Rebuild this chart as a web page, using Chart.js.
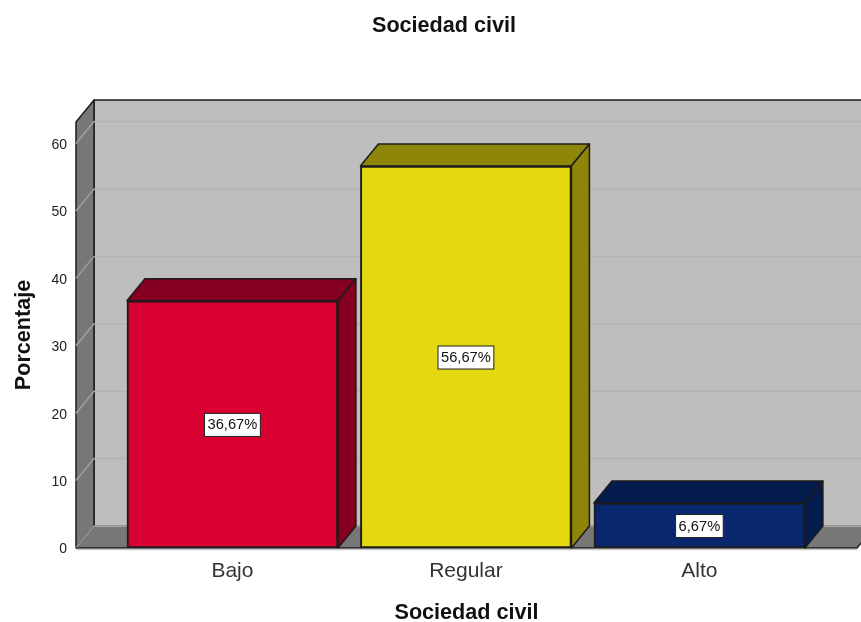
<!DOCTYPE html>
<html>
<head>
<meta charset="utf-8">
<script src="https://cdn.jsdelivr.net/npm/chart.js@4"></script>
<style>
  html, body { margin: 0; padding: 0; background: #fff; }
  canvas { display: block; }
</style>
</head>
<body>
<canvas id="chart" width="861" height="622"></canvas>
<script>
// Values
const categories = ['Bajo', 'Regular', 'Alto'];
const percentages = [36.67, 56.67, 6.67];
const valueLabels = ['36,67%', '56,67%', '6,67%'];
const yTicks = [0, 10, 20, 30, 40, 50, 60];

const frontColors = ['#d80030', '#e4d90e', '#08276f'];
const depthColors = ['#850020', '#8e8608', '#041b4e'];

// offset of the back plane from the front plane, in pixels
const DEPTH_X = 18;
const DEPTH_Y = -22;
const INK = '#1c1c1c';

function polygon(ctx, pts, fill, stroke) {
  ctx.beginPath();
  pts.forEach((p, i) => i ? ctx.lineTo(p[0], p[1]) : ctx.moveTo(p[0], p[1]));
  ctx.closePath();
  if (fill) { ctx.fillStyle = fill; ctx.fill(); }
  if (stroke) { ctx.strokeStyle = stroke; ctx.lineWidth = 1.5; ctx.stroke(); }
}

// Walls, floor and the depth faces of the bars, all behind the front faces
const box3d = {
  id: 'box3d',
  afterLayout(chart) {
    // the title sits a little right of the page centre
    chart.titleBlock.left += 20;
  },
  beforeDatasetsDraw(chart) {
    const ctx = chart.ctx;
    const { left, right, top, bottom } = chart.chartArea;
    const y = chart.scales.y;
    ctx.save();
    ctx.lineJoin = 'round';

    polygon(ctx, [[left + DEPTH_X, top + DEPTH_Y], [right + DEPTH_X, top + DEPTH_Y], [right + DEPTH_X, bottom + DEPTH_Y], [left + DEPTH_X, bottom + DEPTH_Y]], '#bebebe', INK);
    polygon(ctx, [[left, bottom], [left + DEPTH_X, bottom + DEPTH_Y], [right + DEPTH_X, bottom + DEPTH_Y], [right, bottom]], '#777777');
    polygon(ctx, [[left, top], [left + DEPTH_X, top + DEPTH_Y], [left + DEPTH_X, bottom + DEPTH_Y], [left, bottom]], '#777777', INK);

    yTicks.forEach(t => {
      const py = y.getPixelForValue(t);
      ctx.lineWidth = 1.5;
      ctx.strokeStyle = '#b3b3b3';
      ctx.beginPath();
      ctx.moveTo(left + DEPTH_X, py + DEPTH_Y);
      ctx.lineTo(right + DEPTH_X, py + DEPTH_Y);
      ctx.stroke();
      ctx.strokeStyle = '#a0a0a0';
      ctx.beginPath();
      ctx.moveTo(left, py);
      ctx.lineTo(left + DEPTH_X, py + DEPTH_Y);
      ctx.stroke();
    });

    // front edges of the floor
    ctx.strokeStyle = INK;
    ctx.lineWidth = 1.5;
    ctx.beginPath();
    ctx.moveTo(left, bottom);
    ctx.lineTo(right, bottom);
    ctx.lineTo(right + DEPTH_X, bottom + DEPTH_Y);
    ctx.stroke();
    ctx.strokeStyle = '#c8c8c8';
    ctx.beginPath();
    ctx.moveTo(left, bottom + 1.5);
    ctx.lineTo(right, bottom + 1.5);
    ctx.stroke();

    chart.getDatasetMeta(0).data.forEach((bar, i) => {
      const half = bar.width / 2;
      const l = bar.x - half, r = bar.x + half;
      polygon(ctx, [[l, bar.y], [l + DEPTH_X, bar.y + DEPTH_Y], [r + DEPTH_X, bar.y + DEPTH_Y], [r, bar.y]], depthColors[i], INK);
      polygon(ctx, [[r, bar.y], [r + DEPTH_X, bar.y + DEPTH_Y], [r + DEPTH_X, bar.base + DEPTH_Y], [r, bar.base]], depthColors[i], INK);
    });
    ctx.restore();
  },
  afterDatasetsDraw(chart) {
    const ctx = chart.ctx;
    ctx.save();
    ctx.font = '14.7px "Liberation Sans"';
    ctx.textAlign = 'center';
    ctx.textBaseline = 'middle';
    chart.getDatasetMeta(0).data.forEach((bar, i) => {
      const cy = (bar.y + bar.base) / 2;
      const w = ctx.measureText(valueLabels[i]).width + 6;
      ctx.fillStyle = '#ffffff';
      ctx.strokeStyle = '#222222';
      ctx.lineWidth = 1;
      ctx.fillRect(bar.x - w / 2, cy - 11, w, 23);
      ctx.strokeRect(bar.x - w / 2, cy - 11, w, 23);
      ctx.fillStyle = '#111111';
      ctx.fillText(valueLabels[i], bar.x, cy + 1);
    });
    ctx.restore();
  }
};

new Chart(document.getElementById('chart'), {
  type: 'bar',
  plugins: [box3d],
  data: {
    datasets: [{
      data: percentages.map((v, i) => ({ x: i, y: v })),
      backgroundColor: frontColors,
      borderColor: INK,
      borderWidth: 2,
      borderSkipped: false,
      barThickness: 211
    }]
  },
  options: {
    responsive: false,
    animation: false,
    layout: { padding: { left: 11, right: 4, top: 0, bottom: 0 } },
    plugins: {
      legend: { display: false },
      tooltip: { enabled: false },
      title: {
        display: true,
        text: 'Sociedad civil',
        color: '#111111',
        font: { family: '"Liberation Sans"', size: 21.6, weight: 'bold' },
        padding: { top: 13, bottom: 83.1 }
      }
    },
    scales: {
      x: {
        type: 'linear',
        offset: false,
        min: -0.67,
        max: 2.675,
        grid: { display: false },
        border: { display: false },
        afterBuildTicks(scale) { scale.ticks = categories.map((c, i) => ({ value: i })); },
        afterFit(scale) { scale.height = 74; },
        ticks: {
          autoSkip: false,
          maxRotation: 0,
          padding: 3,
          color: '#333333',
          font: { family: '"Liberation Sans"', size: 21 },
          callback: v => categories[v]
        },
        title: {
          display: true,
          text: 'Sociedad civil',
          color: '#111111',
          font: { family: '"Liberation Sans"', size: 21.6, weight: 'bold', lineHeight: 1 },
          padding: { top: 0, bottom: -2 }
        }
      },
      y: {
        min: 0,
        max: 63.2,
        grid: { display: false },
        border: { display: false },
        afterFit(scale) { scale.width = 65; },
        afterBuildTicks(scale) { scale.ticks = yTicks.map(v => ({ value: v })); },
        ticks: {
          padding: 1,
          labelOffset: 1.5,
          color: '#222222',
          font: { family: '"Liberation Sans"', size: 14 }
        },
        title: {
          display: true,
          text: 'Porcentaje',
          color: '#111111',
          font: { family: '"Liberation Sans"', size: 21.6, weight: 'bold' },
          padding: { top: 0, bottom: 0 }
        }
      }
    }
  }
});
</script>
</body>
</html>
